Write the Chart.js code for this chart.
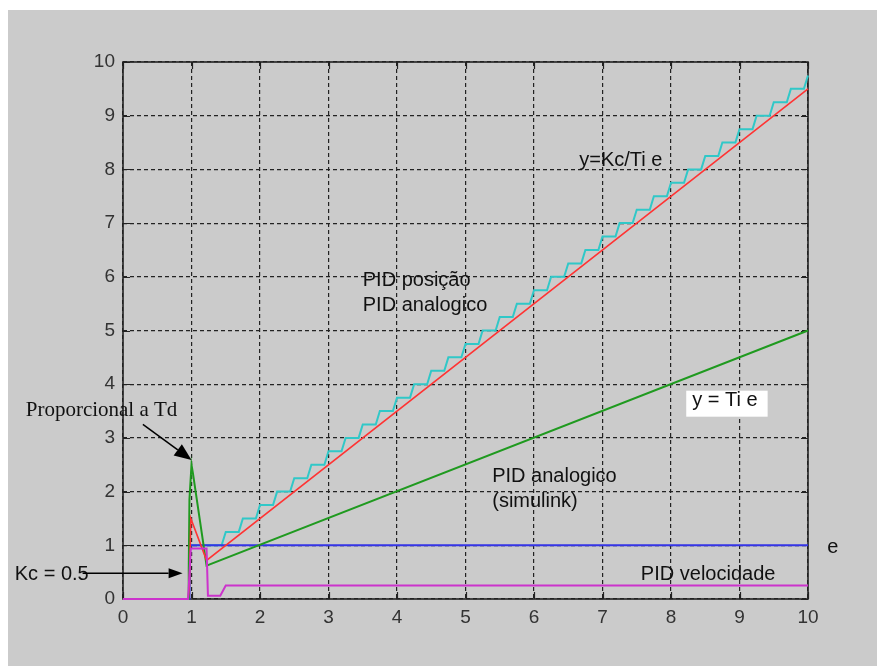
<!DOCTYPE html>
<html>
<head>
<meta charset="utf-8">
<script src="https://cdn.jsdelivr.net/npm/chart.js@4.4.0/dist/chart.umd.min.js"></script>
<style>
  html, body { margin: 0; padding: 0; background: #ffffff; }
  #frame { position: absolute; left: 8px; top: 10px; width: 869px; height: 656px; background: #cbcbcb; }
  #chart { display: block; }
</style>
</head>
<body>
<div id="frame"><canvas id="chart" width="869" height="656"></canvas></div>
<script>
// tick labels
const xTicks = [0, 1, 2, 3, 4, 5, 6, 7, 8, 9, 10];
const yTicks = [0, 1, 2, 3, 4, 5, 6, 7, 8, 9, 10];

// e (step input)
const stepX = [0, 0.97, 0.98, 10];
const stepY = [0, 0, 1, 1];

// PID velocidade
const velX = [0, 0.95, 0.99, 1.22, 1.24, 1.42, 1.5, 10];
const velY = [0, 0, 0.94, 0.94, 0.06, 0.06, 0.25, 0.25];

// PID analogico (y = Kc/Ti e)
const anaX = [0, 0.95, 0.97, 0.99, 1.22, 10];
const anaY = [0, 0, 0.25, 1.5, 0.72, 9.5];

// PID analogico simulink (y = Ti e)
const simX = [0, 0.95, 0.96, 0.97, 1.0, 1.02, 1.22, 10];
const simY = [0, 0, 0.6, 1.85, 2.5, 2.35, 0.62, 5.0];

// PID posicao (staircase)
const posX = [0, 0.96, 0.98, 1.44, 1.5,
  1.69, 1.75, 1.94, 2, 2.19, 2.25, 2.44, 2.5, 2.69, 2.75, 2.94, 3,
  3.19, 3.25, 3.44, 3.5, 3.69, 3.75, 3.94, 4, 4.19, 4.25, 4.44, 4.5, 4.69, 4.75, 4.94, 5,
  5.19, 5.25, 5.44, 5.5, 5.69, 5.75, 5.94, 6, 6.19, 6.25, 6.44, 6.5, 6.69, 6.75, 6.94, 7,
  7.19, 7.25, 7.44, 7.5, 7.69, 7.75, 7.94, 8, 8.19, 8.25, 8.44, 8.5, 8.69, 8.75, 8.94, 9,
  9.19, 9.25, 9.44, 9.5, 9.69, 9.75, 9.94, 10];
const posY = [0, 0, 1, 1, 1.25,
  1.25, 1.5, 1.5, 1.75, 1.75, 2, 2, 2.25, 2.25, 2.5, 2.5, 2.75,
  2.75, 3, 3, 3.25, 3.25, 3.5, 3.5, 3.75, 3.75, 4, 4, 4.25, 4.25, 4.5, 4.5, 4.75,
  4.75, 5, 5, 5.25, 5.25, 5.5, 5.5, 5.75, 5.75, 6, 6, 6.25, 6.25, 6.5, 6.5, 6.75,
  6.75, 7, 7, 7.25, 7.25, 7.5, 7.5, 7.75, 7.75, 8, 8, 8.25, 8.25, 8.5, 8.5, 8.75,
  8.75, 9, 9, 9.25, 9.25, 9.5, 9.5, 9.75];

// annotations, in data units
const labels = [
  { text: 'y=Kc/Ti e', x: 6.66, y: 8.06 },
  { text: 'PID posição', x: 3.50, y: 5.82 },
  { text: 'PID analogico', x: 3.50, y: 5.37 },
  { text: 'y = Ti e', x: 8.31, y: 3.60, box: true },
  { text: 'PID analogico', x: 5.39, y: 2.18 },
  { text: '(simulink)', x: 5.39, y: 1.72 },
  { text: 'e', x: 10.28, y: 0.86 },
  { text: 'PID velocidade', x: 7.56, y: 0.36 },
  { text: 'Kc = 0.5', x: -1.58, y: 0.36 },
  { text: 'Proporcional a Td', x: -1.42, y: 3.41, serif: true }
];
const arrows = [
  { x0: 0.29, y0: 3.25, x1: 1.0, y1: 2.59, head: 17, half: 7 },
  { x0: -0.59, y0: 0.48, x1: 0.87, y1: 0.48, head: 14, half: 5 }
];

const pts = (xs, ys) => xs.map((v, i) => ({ x: v, y: ys[i] }));

const series = (data, color, width) => ({
  data, borderColor: color, borderWidth: width, pointRadius: 0,
  tension: 0, fill: false, clip: false
});

const overlay = {
  id: 'overlay',
  beforeDatasetsDraw(chart) {
    const { ctx, chartArea: a, scales: { x, y } } = chart;
    ctx.save();
    ctx.strokeStyle = '#222';
    ctx.lineWidth = 1.2;
    ctx.beginPath();
    xTicks.forEach(v => {
      const px = Math.round(x.getPixelForValue(v)) + 0.5;
      ctx.moveTo(px, a.bottom); ctx.lineTo(px, a.bottom - 7);
      ctx.moveTo(px, a.top); ctx.lineTo(px, a.top + 7);
    });
    yTicks.forEach(v => {
      const py = Math.round(y.getPixelForValue(v)) + 0.5;
      ctx.moveTo(a.left, py); ctx.lineTo(a.left + 7, py);
      ctx.moveTo(a.right, py); ctx.lineTo(a.right - 7, py);
    });
    ctx.stroke();
    ctx.lineWidth = 1.6;
    ctx.strokeRect(a.left, a.top, a.right - a.left, a.bottom - a.top);
    ctx.restore();
  },
  afterDatasetsDraw(chart) {
    const { ctx, scales: { x, y } } = chart;
    ctx.save();
    ctx.textBaseline = 'alphabetic';
    ctx.textAlign = 'left';
    labels.forEach(l => {
      ctx.font = l.serif ? '21px "Liberation Serif"' : '20px "Liberation Sans"';
      const px = x.getPixelForValue(l.x);
      const py = y.getPixelForValue(l.y);
      if (l.box) {
        const w = ctx.measureText(l.text).width;
        ctx.fillStyle = '#ffffff';
        ctx.fillRect(px - 6, py - 15, w + 16, 26);
      }
      ctx.fillStyle = '#111';
      ctx.fillText(l.text, px, py);
    });
    ctx.strokeStyle = '#000';
    ctx.fillStyle = '#000';
    ctx.lineWidth = 1.5;
    arrows.forEach(r => {
      const x0 = x.getPixelForValue(r.x0), y0 = y.getPixelForValue(r.y0);
      const x1 = x.getPixelForValue(r.x1), y1 = y.getPixelForValue(r.y1);
      const ang = Math.atan2(y1 - y0, x1 - x0);
      const bx = x1 - r.head * Math.cos(ang), by = y1 - r.head * Math.sin(ang);
      ctx.beginPath();
      ctx.moveTo(x0, y0); ctx.lineTo(bx, by);
      ctx.stroke();
      ctx.beginPath();
      ctx.moveTo(x1, y1);
      ctx.lineTo(bx + r.half * Math.sin(ang), by - r.half * Math.cos(ang));
      ctx.lineTo(bx - r.half * Math.sin(ang), by + r.half * Math.cos(ang));
      ctx.closePath();
      ctx.fill();
    });
    ctx.restore();
  }
};

const tickFont = { family: '"Liberation Sans"', size: 19 };

new Chart(document.getElementById('chart'), {
  type: 'line',
  data: {
    datasets: [
      series(pts(velX, velY), '#cc33cc', 2),
      series(pts(anaX, anaY), '#ff3333', 1.6),
      series(pts(simX, simY), '#1f9a1f', 2),
      series(pts(stepX, stepY), '#3535e6', 2),
      series(pts(posX, posY), '#30c8c8', 2)
    ]
  },
  options: {
    responsive: false,
    animation: false,
    devicePixelRatio: 1,
    layout: { padding: { top: 52, right: 69, bottom: 37, left: 0 } },
    plugins: { legend: { display: false }, tooltip: { enabled: false } },
    scales: {
      x: {
        type: 'linear', min: 0, max: 10,
        afterBuildTicks: s => { s.ticks = xTicks.map(v => ({ value: v })); },
        afterFit: s => { s.height = 30; },
        ticks: { font: tickFont, color: '#333', padding: 7, maxRotation: 0, autoSkip: false },
        grid: { color: '#222', lineWidth: 1.2, drawTicks: false },
        border: { display: false, dash: [4, 3] }
      },
      y: {
        type: 'linear', min: 0, max: 10,
        afterBuildTicks: s => { s.ticks = yTicks.map(v => ({ value: v })); },
        afterFit: s => { s.width = 115; },
        ticks: { font: tickFont, color: '#333', padding: 8, autoSkip: false },
        grid: { color: '#222', lineWidth: 1.2, drawTicks: false },
        border: { display: false, dash: [4, 3] }
      }
    }
  },
  plugins: [overlay]
});
</script>
</body>
</html>
